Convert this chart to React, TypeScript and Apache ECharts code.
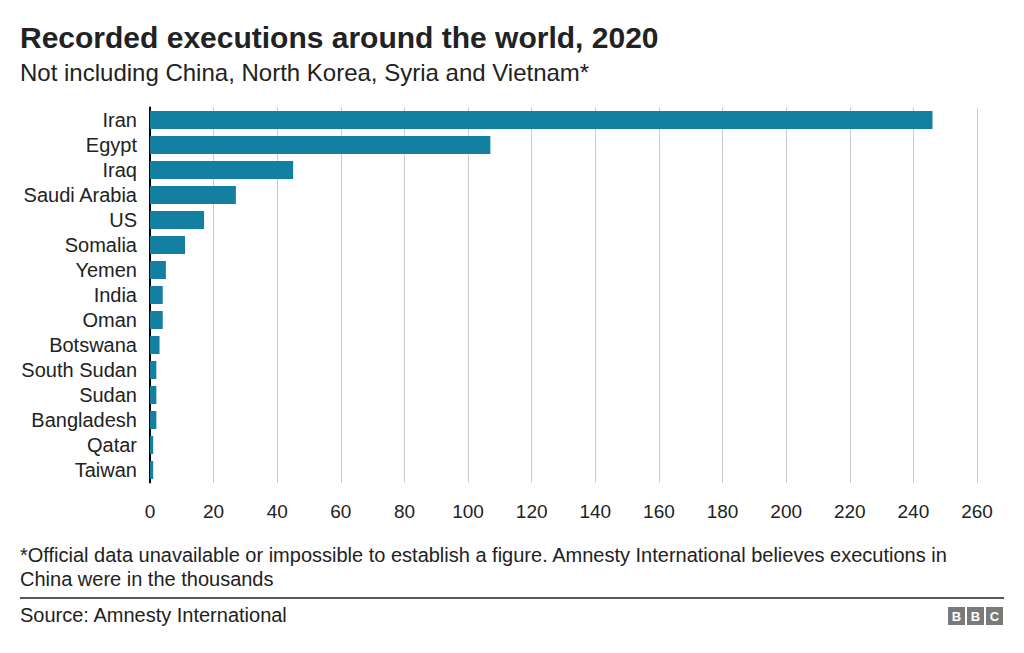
import React, { useEffect, useRef } from "react";
import * as echarts from "echarts";

const countries = ["Iran", "Egypt", "Iraq", "Saudi Arabia", "US", "Somalia", "Yemen", "India", "Oman", "Botswana", "South Sudan", "Sudan", "Bangladesh", "Qatar", "Taiwan"];
const executions = [246, 107, 45, 27, 17, 11, 5, 4, 4, 3, 2, 2, 2, 1, 1];
const xTicks = { min: 0, max: 260, interval: 20 };

const FONT = "'Liberation Sans', Arial, Helvetica, sans-serif";

export default function App() {
  const ref = useRef<HTMLDivElement>(null);
  useEffect(() => {
    if (!ref.current) return;
    const chart = echarts.init(ref.current, null, { renderer: "svg" });
    const logoLetters = ["B", "B", "C"];
    chart.setOption({
      animation: false,
      backgroundColor: "#ffffff",
      textStyle: { fontFamily: FONT },
      grid: { left: 150, right: 47, top: 107.5, height: 375, containLabel: false },
      xAxis: {
        type: "value",
        min: xTicks.min,
        max: xTicks.max,
        interval: xTicks.interval,
        axisLine: { show: false },
        axisTick: { show: false },
        splitLine: { show: true, lineStyle: { color: "#cbcbcb", width: 1 } },
        axisLabel: { color: "#222222", fontSize: 19, margin: 19, fontFamily: FONT },
      },
      yAxis: {
        type: "category",
        data: countries,
        inverse: true,
        axisLine: { show: true, lineStyle: { color: "#000000", width: 2 } },
        axisTick: { show: false },
        axisLabel: { color: "#222222", fontSize: 20, margin: 13, interval: 0, fontFamily: FONT },
      },
      series: [
        {
          type: "bar",
          data: executions,
          barWidth: 18,
          itemStyle: { color: "#1380A1" },
          z: 3,
        },
      ],
      graphic: [
        { type: "text", left: 20, top: 22, style: { text: "Recorded executions around the world, 2020", fontSize: 30, fontWeight: "bold", fill: "#222222", fontFamily: FONT } },
        { type: "text", left: 20, top: 60, style: { text: "Not including China, North Korea, Syria and Vietnam*", fontSize: 24, fill: "#222222", fontFamily: FONT } },
        { type: "text", left: 20, top: 545, style: { text: "*Official data unavailable or impossible to establish a figure. Amnesty International believes executions in", fontSize: 20, fill: "#222222", fontFamily: FONT } },
        { type: "text", left: 20, top: 569, style: { text: "China were in the thousands", fontSize: 20, fill: "#222222", fontFamily: FONT } },
        { type: "line", shape: { x1: 20, y1: 598, x2: 1004, y2: 598 }, style: { stroke: "#222222", lineWidth: 1.5 } },
        { type: "text", left: 20, top: 605, style: { text: "Source: Amnesty International", fontSize: 20, fill: "#222222", fontFamily: FONT } },
        ...logoLetters.flatMap((ch, i) => [
          { type: "rect", shape: { x: 948 + i * 19, y: 607, width: 17, height: 18 }, style: { fill: "#7a7a7a" } },
          { type: "text", x: 948 + i * 19 + 8.5, y: 616, style: { text: ch, fontSize: 13, fontWeight: "bold", fill: "#ffffff", align: "center", verticalAlign: "middle", fontFamily: FONT } },
        ]),
      ],
    });
    return () => chart.dispose();
  }, []);
  return <div ref={ref} style={{ width: 1024, height: 653, position: "absolute", left: 0, top: 0 }} />;
}
